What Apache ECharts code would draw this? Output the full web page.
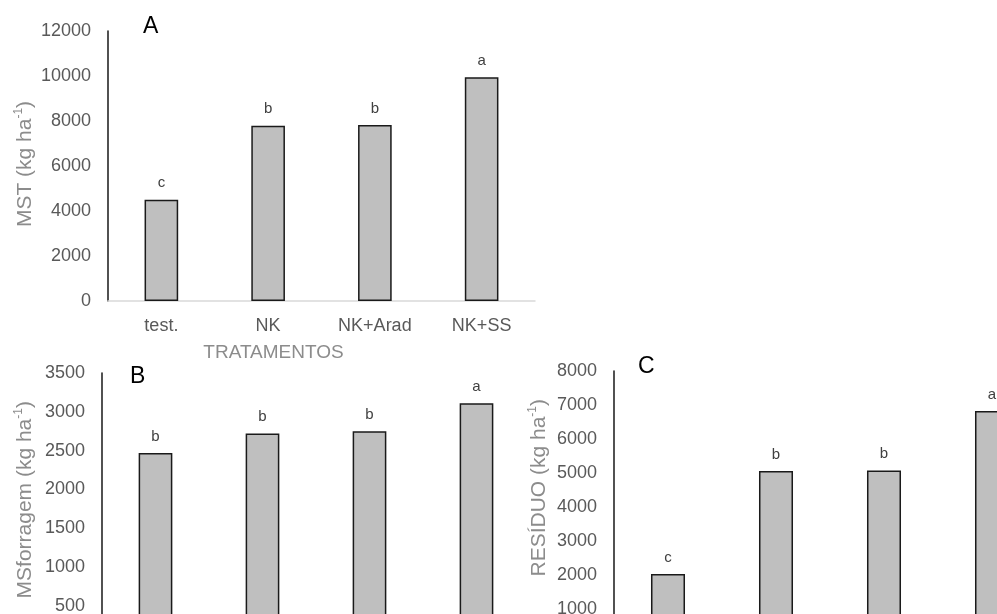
<!DOCTYPE html>
<html>
<head>
<meta charset="utf-8">
<script src="https://cdn.jsdelivr.net/npm/echarts@6/dist/echarts.min.js"></script>
<style>html,body{margin:0;padding:0;background:#fff}#c{width:997px;height:614px}</style>
</head>
<body>
<div id="c"></div>
<script>
const categories = ['test.', 'NK', 'NK+Arad', 'NK+SS'];
const mstValues = [4500, 7790, 7820, 9950];
const mstLetters = ['c', 'b', 'b', 'a'];
const forragemValues = [2470, 2720, 2750, 3110];
const forragemLetters = ['b', 'b', 'b', 'a'];
const residuoValues = [2020, 5050, 5070, 6820];
const residuoLetters = ['c', 'b', 'b', 'a'];
const panelLetters = ['A', 'B', 'C'];
const xAxisTitle = 'TRATAMENTOS';
const yTitles = ['MST', 'MSforragem', 'RESÍDUO'];

const FONT = '"Liberation Sans", Arial, sans-serif';
const chart = echarts.init(document.getElementById('c'));

const grids = [
  {left: 108, top: 31, width: 427, height: 270, outerBoundsMode: 'none', containLabel: false},
  {left: 102, top: 373, width: 428, height: 271.5, outerBoundsMode: 'none', containLabel: false},
  {left: 614, top: 371, width: 432, height: 271.5, outerBoundsMode: 'none', containLabel: false}
];
const yCfg = [
  {max: 12000, interval: 2000, gap: 71, shift: 4},
  {max: 3500, interval: 500, gap: 65, shift: 18},
  {max: 8000, interval: 1000, gap: 63, shift: 38}
];
const seriesVals = [mstValues, forragemValues, residuoValues];
const seriesLetters = [mstLetters, forragemLetters, residuoLetters];

const xAxes = grids.map((g, i) => ({
  type: 'category', gridIndex: i, data: categories,
  axisLine: {show: true, lineStyle: {color: '#d9d9d9', width: 1.5}},
  axisTick: {show: false},
  axisLabel: {color: '#595959', fontSize: 18, fontFamily: FONT, margin: 16},
  name: i === 0 ? xAxisTitle : '',
  nameLocation: 'middle', nameGap: 42,
  nameTextStyle: {color: '#8c8c8c', fontSize: 19, fontFamily: FONT, padding: [0, 96, 0, 0]}
}));

const yAxes = grids.map((g, i) => ({
  type: 'value', gridIndex: i, min: 0, max: yCfg[i].max, interval: yCfg[i].interval,
  splitLine: {show: false},
  axisTick: {show: false},
  axisLine: {show: true, lineStyle: {color: '#262626', width: 1.6}},
  axisLabel: {color: '#595959', fontSize: 18, fontFamily: FONT, margin: 17, formatter: v => String(v)},
  name: '{t|' + yTitles[i] + ' (kg ha}{s|-1}{t|)}',
  nameLocation: 'middle', nameGap: yCfg[i].gap, nameRotate: 90,
  nameTextStyle: {
    padding: [0, 0, 0, yCfg[i].shift],
    rich: {
      t: {color: '#8c8c8c', fontSize: 21, fontFamily: FONT, lineHeight: 24},
      s: {color: '#8c8c8c', fontSize: 12, fontFamily: FONT, verticalAlign: 'top', lineHeight: 24}
    }
  }
}));

const series = seriesVals.map((vals, i) => ({
  type: 'bar', xAxisIndex: i, yAxisIndex: i, data: vals,
  barWidth: '31.5%',
  itemStyle: {color: '#bfbfbf', borderColor: '#1a1a1a', borderWidth: 1.5},
  label: {
    show: true, position: 'top', distance: 9, color: '#404040', fontSize: 15, fontFamily: FONT,
    formatter: p => seriesLetters[i][p.dataIndex]
  }
}));

const titlePos = [{left: 138, top: 10}, {left: 125, top: 360}, {left: 633, top: 350}];
const titles = panelLetters.map((t, i) => ({
  text: t, left: titlePos[i].left, top: titlePos[i].top,
  textStyle: {color: '#000', fontSize: 23, fontWeight: 'normal', fontFamily: FONT}
}));

chart.setOption({
  animation: false,
  title: titles,
  grid: grids,
  xAxis: xAxes,
  yAxis: yAxes,
  series: series
});
</script>
</body>
</html>
